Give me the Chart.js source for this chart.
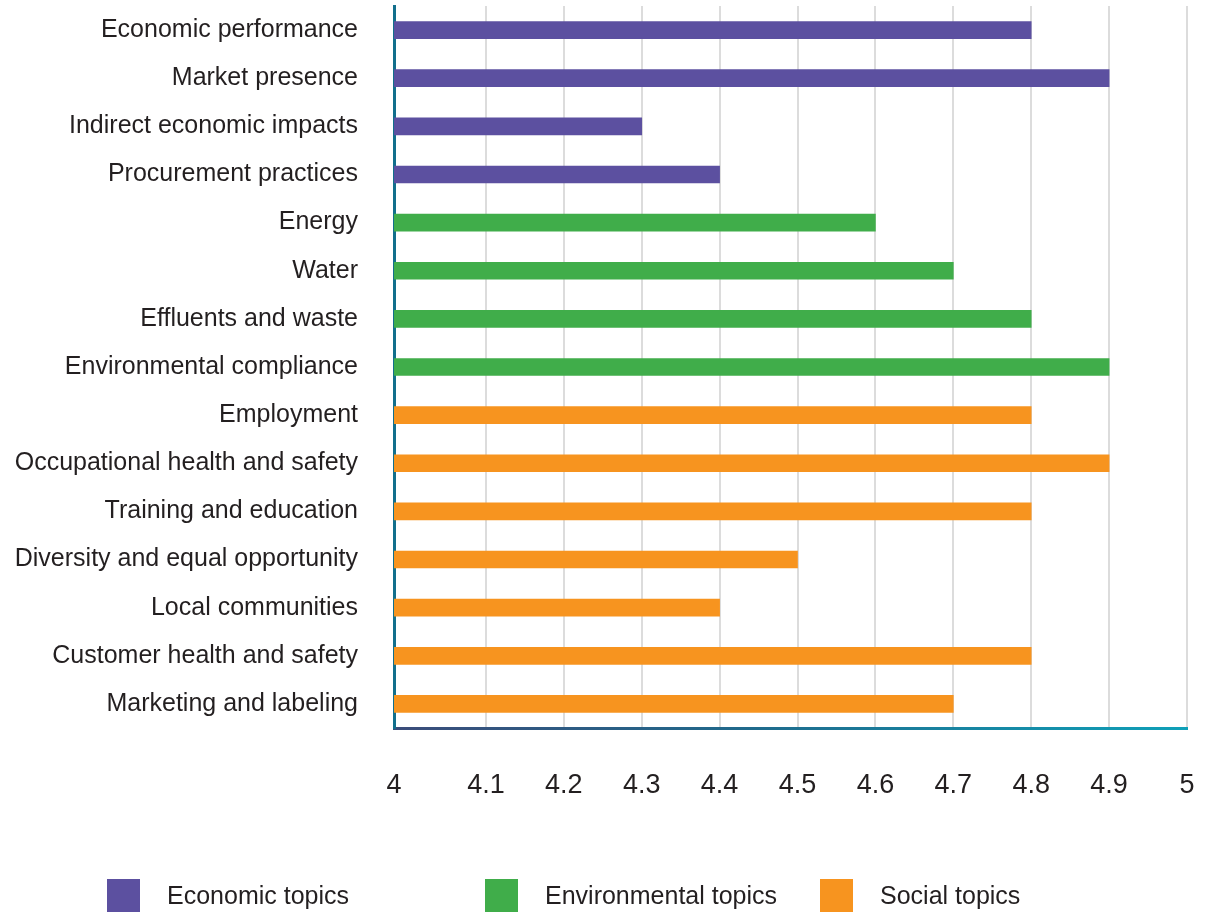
<!DOCTYPE html>
<html>
<head>
<meta charset="utf-8">
<script src="https://cdn.jsdelivr.net/npm/chart.js@4/dist/chart.umd.min.js"></script>
<style>
  html, body { margin: 0; padding: 0; background: #fff; }
  #wrap { position: relative; width: 1222px; height: 913px; }
  canvas { position: absolute; left: 0; top: 0; }
  .lg { position: absolute; top: 879px; height: 33px; display: flex; align-items: center;
        font-family: "Liberation Sans", Arial, sans-serif; font-size: 25px; color: #231f20; }
  .lg span.sw { display: inline-block; width: 33px; height: 33px; margin-right: 27px; }
</style>
</head>
<body>
<div id="wrap">
  <canvas id="c" width="1222" height="913"></canvas>
  <div id="legend"></div>
</div>
<script>
const categories = [
  "Economic performance", "Market presence", "Indirect economic impacts", "Procurement practices",
  "Energy", "Water", "Effluents and waste", "Environmental compliance",
  "Employment", "Occupational health and safety", "Training and education",
  "Diversity and equal opportunity", "Local communities", "Customer health and safety",
  "Marketing and labeling"
];
const values = [4.8, 4.9, 4.3, 4.4, 4.6, 4.7, 4.8, 4.9, 4.8, 4.9, 4.8, 4.5, 4.4, 4.8, 4.7];
const groupOf = [0, 0, 0, 0, 1, 1, 1, 1, 2, 2, 2, 2, 2, 2, 2];
const groupNames = ["Economic topics", "Environmental topics", "Social topics"];
const groupColors = ["#5c50a0", "#40ad4a", "#f7941f"];
const tickValues = [4, 4.1, 4.2, 4.3, 4.4, 4.5, 4.6, 4.7, 4.8, 4.9, 5];
const tickLabels = ["4", "4.1", "4.2", "4.3", "4.4", "4.5", "4.6", "4.7", "4.8", "4.9", "5"];

// the original axis starts slightly left of where 4.0 would fall on the even grid
const axisStart = 3.982;

const legendLefts = [107, 485, 820];
const legendEl = document.getElementById('legend');
groupNames.forEach((n, i) => {
  const d = document.createElement('div');
  d.className = 'lg';
  d.style.left = legendLefts[i] + 'px';
  d.innerHTML = '<span class="sw" style="background:' + groupColors[i] + '"></span>' + n;
  legendEl.appendChild(d);
});

const canvas = document.getElementById('c');
const g = canvas.getContext('2d').createLinearGradient(394, 0, 1187, 0);
g.addColorStop(0, '#3b4c7a');
g.addColorStop(0.45, '#1f6a8c');
g.addColorStop(1, '#0fa0b8');

new Chart(canvas, {
  type: 'bar',
  data: {
    labels: categories,
    datasets: [{
      data: values,
      backgroundColor: groupOf.map(k => groupColors[k]),
      barThickness: 17,
      borderWidth: 0
    }]
  },
  options: {
    indexAxis: 'y',
    responsive: false,
    animation: false,
    layout: { padding: { left: 0, right: 35, top: 6, bottom: 108 } },
    plugins: { legend: { display: false }, tooltip: { enabled: false } },
    scales: {
      x: {
        type: 'linear',
        min: axisStart,
        max: 5,
        afterBuildTicks: (s) => {
          s.ticks = tickValues.map((v, i) => ({ value: i === 0 ? axisStart : v }));
        },
        afterFit: (s) => { s.paddingLeft = 0; s.paddingRight = 0; s.height = 77; },
        ticks: {
          autoSkip: false,
          maxRotation: 0,
          padding: 41,
          color: '#231f20',
          font: { family: '"Liberation Sans", Arial, sans-serif', size: 27 },
          callback: (v, i) => tickLabels[i]
        },
        grid: {
          drawTicks: false,
          color: (ctx) => ctx.index === 0 ? 'rgba(0,0,0,0)' : '#dcdcdc',
          lineWidth: 2
        },
        border: { display: true, color: g, width: 3 }
      },
      y: {
        afterFit: (s) => { s.width = 394; s.paddingTop = 0; s.paddingBottom = 0; },
        ticks: {
          padding: 36,
          color: '#231f20',
          font: { family: '"Liberation Sans", Arial, sans-serif', size: 25 }
        },
        grid: { display: false, drawTicks: false },
        border: { display: true, color: '#126f8c', width: 3 }
      }
    }
  }
});
</script>
</body>
</html>
